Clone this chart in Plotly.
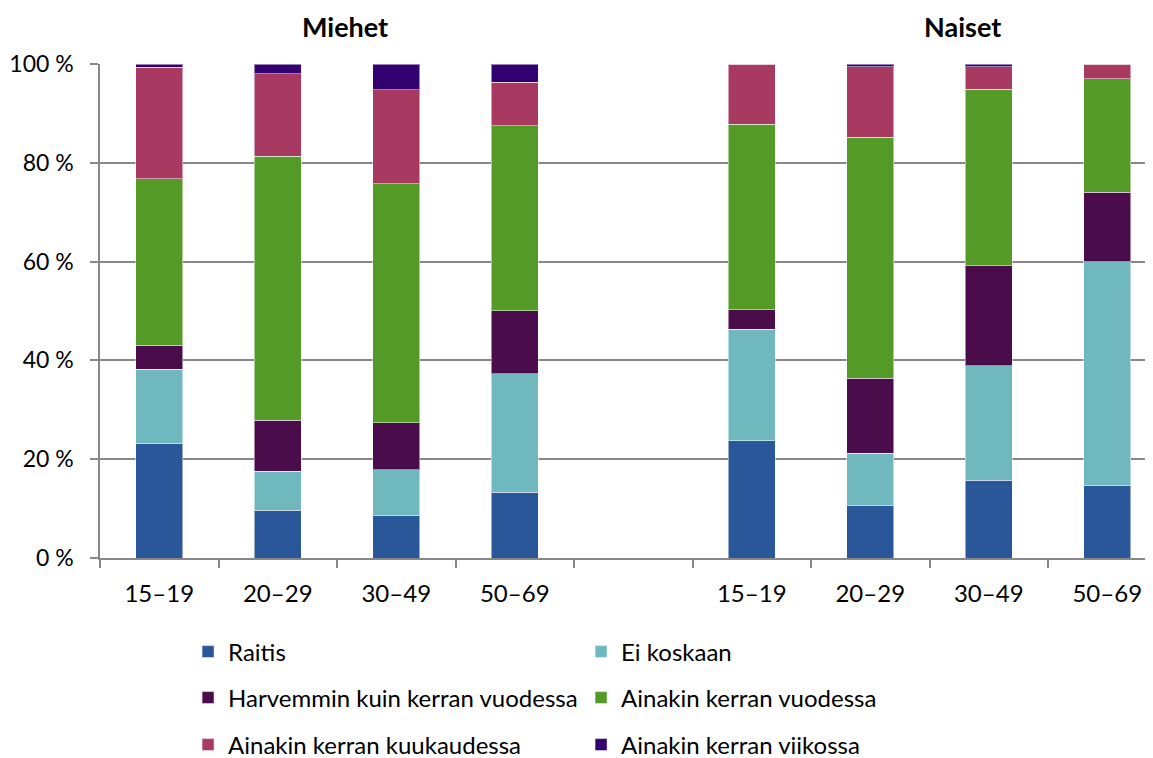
import plotly.graph_objects as go

# ---------------------------------------------------------------------------
# Data (percent of group)
# ---------------------------------------------------------------------------

slots = ["M15", "M20", "M30", "M50", "gap", "N15", "N20", "N30", "N50"]
slot_labels = ["15–19", "20–29", "30–49", "50–69", "", "15–19", "20–29", "30–49", "50–69"]

raitis = [23.2, 9.7, 8.6, 13.3, None, 23.7, 10.6, 15.7, 14.6]
ei_koskaan = [15.0, 7.9, 9.3, 24.0, None, 22.6, 10.6, 23.2, 45.4]
harvemmin = [4.9, 10.3, 9.5, 12.8, None, 4.0, 15.2, 20.3, 14.0]
vuodessa = [33.7, 53.4, 48.4, 37.4, None, 37.5, 48.8, 35.7, 23.0]
kuukaudessa = [22.5, 16.7, 19.0, 8.8, None, 12.2, 14.2, 4.5, 3.0]
viikossa = [0.7, 2.0, 5.2, 3.7, None, 0.0, 0.6, 0.6, 0.0]

series = [
    ("Raitis", raitis, "#2a5799", "legend"),
    ("Ei koskaan", ei_koskaan, "#6eb8be", "legend"),
    ("Harvemmin kuin kerran vuodessa", harvemmin, "#4a0c4a", "legend2"),
    ("Ainakin kerran vuodessa", vuodessa, "#539a27", "legend2"),
    ("Ainakin kerran kuukaudessa", kuukaudessa, "#a83961", "legend3"),
    ("Ainakin kerran viikossa", viikossa, "#330070", "legend3"),
]

GRID = "#888888"
FONT = "Lato, Arial, sans-serif"

# page body has an 8px margin, so the figure is laid out 8px up/left
OFF = 8
plot_top = 64 - OFF
plot_h = 494
plot_left = 100 - OFF
cat_px = 118.5

# ---------------------------------------------------------------------------
# Figure
# ---------------------------------------------------------------------------

fig = go.Figure()
for name, vals, color, leg in series:
    fig.add_trace(
        go.Bar(
            x=slots,
            y=vals,
            name=name,
            marker=dict(color=color, line=dict(color="rgba(255,255,255,0.5)", width=1)),
            legend=leg,
        )
    )

# legend rows sit below the plot; paper y = 0 is the x axis line
rows_px = [652, 698, 745]   # distance measured in screen pixels
axis_px = 558
leg_common = dict(
    orientation="h",
    x=0.083,
    xanchor="left",
    yanchor="middle",
    entrywidth=348,
    entrywidthmode="pixels",
    font=dict(family=FONT, size=24, color="#000000"),
    bgcolor="rgba(0,0,0,0)",
    traceorder="normal",
)

fig.update_layout(
    width=1153,
    height=758,
    template="plotly_white",
    plot_bgcolor="white",
    paper_bgcolor="white",
    font=dict(family=FONT, size=24, color="#000000"),
    barmode="stack",
    bargap=0.6,
    margin=dict(l=plot_left, r=0, t=plot_top, b=758 - plot_top - plot_h, autoexpand=False),
    showlegend=True,
    legend=dict(**leg_common, y=-(rows_px[0] - axis_px) / plot_h),
    legend2=dict(**leg_common, y=-(rows_px[1] - axis_px) / plot_h),
    legend3=dict(**leg_common, y=-(rows_px[2] - axis_px) / plot_h),
)

fig.update_xaxes(
    type="category",
    categoryorder="array",
    categoryarray=slots,
    tickvals=slots,
    ticktext=slot_labels,
    tickson="boundaries",
    range=[-0.5, -0.5 + (1153 - plot_left) / cat_px],
    showline=True,
    linecolor=GRID,
    linewidth=1.5,
    ticks="outside",
    ticklen=8,
    tickcolor=GRID,
    tickwidth=1.5,
    showgrid=False,
    automargin=False,
    ticklabelstandoff=13,
    tickfont=dict(family=FONT, size=24),
)
fig.update_yaxes(
    range=[0, 100],
    tick0=0,
    dtick=20,
    ticksuffix=" %",
    showgrid=True,
    gridcolor=GRID,
    gridwidth=1.5,
    showline=True,
    linecolor=GRID,
    linewidth=1.5,
    ticks="outside",
    ticklen=8,
    tickcolor=GRID,
    tickwidth=1.5,
    zeroline=False,
    automargin=False,
    ticklabelstandoff=12,
    tickfont=dict(family=FONT, size=23),
)

for label, xpos in [("Miehet", 1.565), ("Naiset", 6.78)]:
    fig.add_annotation(
        text=f"<b>{label}</b>",
        x=xpos,
        xref="x",
        y=(axis_px - 27) / plot_h,
        yref="paper",
        yanchor="middle",
        showarrow=False,
        font=dict(family=FONT, size=27, color="#000000"),
    )

fig.write_html("out.html")
